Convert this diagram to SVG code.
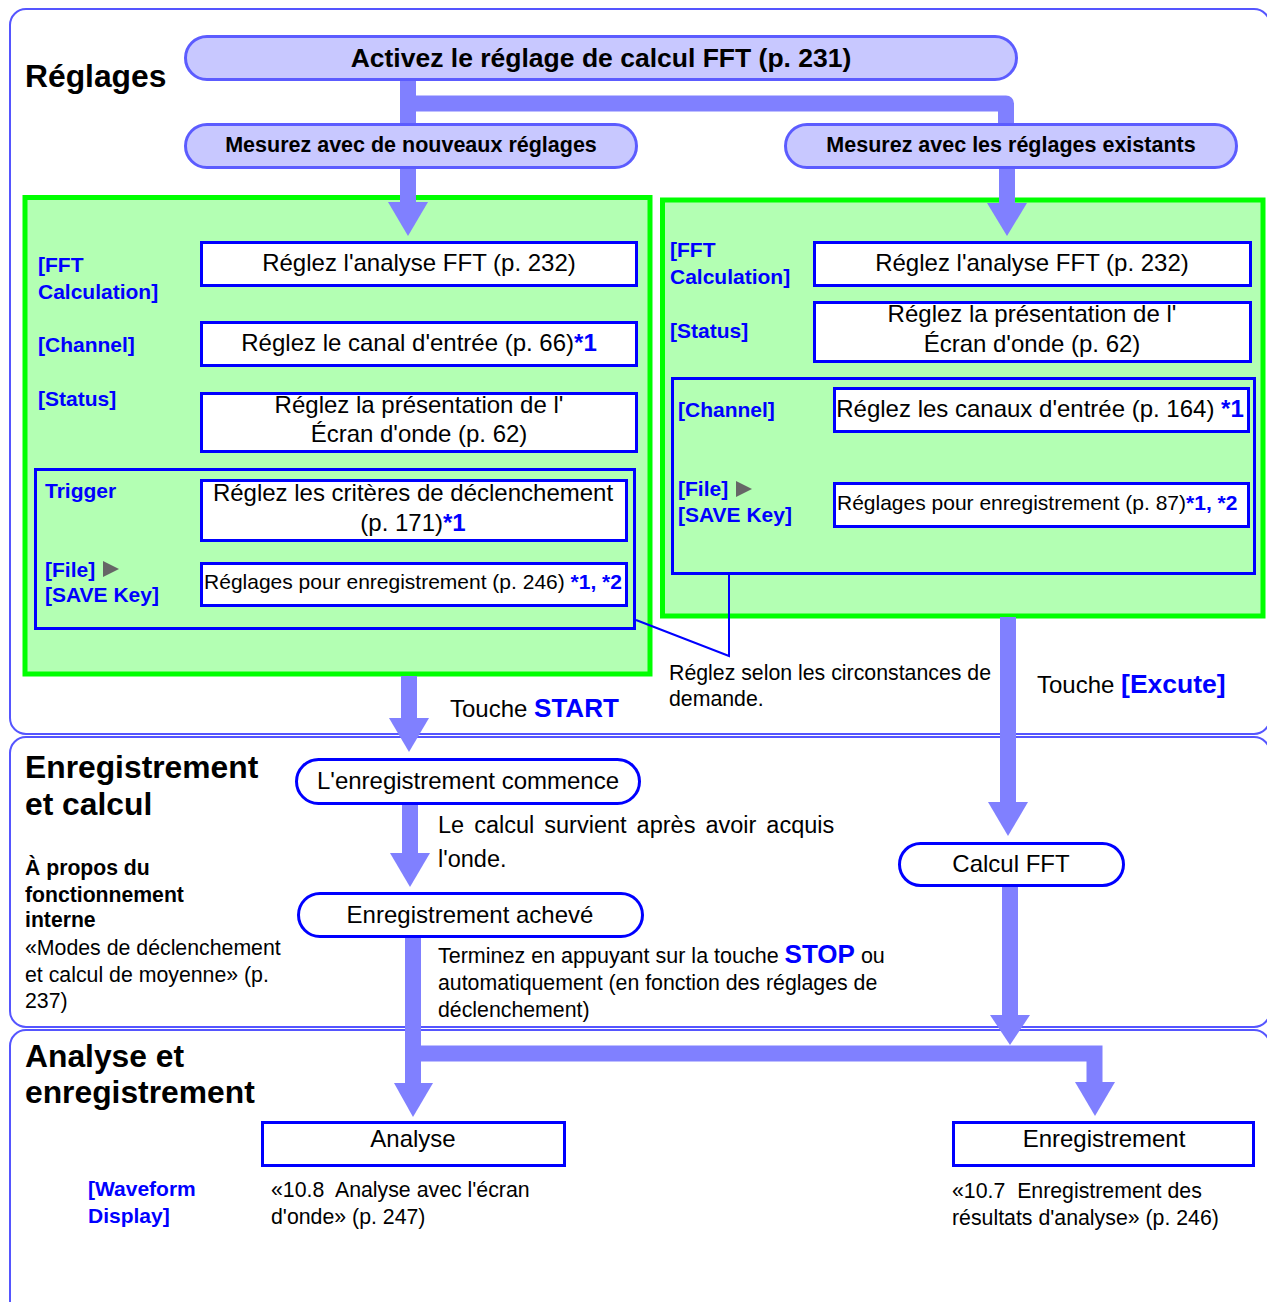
<svg xmlns="http://www.w3.org/2000/svg" width="1267" height="1302" viewBox="0 0 1267 1302">
  <defs>
    <style>
      text { font-family: "Liberation Sans", Arial, Helvetica, sans-serif; fill: #000; }
      .panel { fill: none; stroke: #5555ff; stroke-width: 2; }
      .green { fill: #b3ffb3; stroke: #00ff00; stroke-width: 5; }
      .step { fill: #c8c8ff; stroke: #5c5cff; stroke-width: 3; }
      .box { fill: #fff; stroke: #0000ff; stroke-width: 3; }
      .grp { fill: none; stroke: #0000ff; stroke-width: 3; }
      .pill { fill: #fff; stroke: #0000ff; stroke-width: 3; }
      .flow { fill: none; stroke: #8080ff; stroke-width: 16; }
      .head { fill: #8080ff; }
      .call { fill: none; stroke: #0000ff; stroke-width: 2; }
      .tri { fill: #666; }
      .h { font-size: 31.8px; font-weight: bold; }
      .st { font-size: 21.5px; font-weight: bold; }
      .t { font-size: 24px; }
      .s { font-size: 21.3px; }
      .lb { font-size: 21px; font-weight: bold; fill: #0000ff; }
      .b { font-weight: bold; fill: #0000ff; }
      .sb { font-size: 21.2px; font-weight: bold; }
      .m { text-anchor: middle; }
    </style>
  </defs>

  <!-- section frames (right side runs past the page edge) -->
  <g id="sections">
    <rect class="panel" x="10" y="9" width="1260" height="725" rx="16"/>
    <rect class="panel" x="10" y="737" width="1260" height="290" rx="16"/>
    <rect class="panel" x="10" y="1030" width="1260" height="300" rx="16"/>
    <text class="h" x="25" y="87">Réglages</text>
    <text class="h" x="25" y="778">Enregistrement</text>
    <text class="h" x="25" y="815">et calcul</text>
    <text class="h" x="25" y="1067">Analyse et</text>
    <text class="h" x="25" y="1103">enregistrement</text>
  </g>

  <!-- settings areas -->
  <g id="new-settings">
    <rect class="green" x="25" y="197.5" width="625" height="476.5"/>
    <rect class="grp" x="35.5" y="469.5" width="599" height="159"/>
    <text class="lb" x="38" y="272">[FFT</text>
    <text class="lb" x="38" y="299">Calculation]</text>
    <text class="lb" x="38" y="352">[Channel]</text>
    <text class="lb" x="38" y="406">[Status]</text>
    <text class="lb" x="45" y="498">Trigger</text>
    <text class="lb" x="45" y="577">[File]</text>
    <polygon class="tri" points="103,561 119,569 103,577"/>
    <text class="lb" x="45" y="602">[SAVE Key]</text>
  </g>
  <g id="existing-settings">
    <rect class="green" x="662.5" y="200" width="600.5" height="416"/>
    <rect class="grp" x="672.5" y="378.5" width="582" height="195"/>
    <text class="lb" x="670" y="257">[FFT</text>
    <text class="lb" x="670" y="284">Calculation]</text>
    <text class="lb" x="670" y="338">[Status]</text>
    <text class="lb" x="678" y="417">[Channel]</text>
    <text class="lb" x="678" y="496">[File]</text>
    <polygon class="tri" points="736,481 752,489 736,497"/>
    <text class="lb" x="678" y="522">[SAVE Key]</text>
  </g>

  <!-- connectors -->
  <g id="connectors">
    <path class="flow" d="M408 81 V124"/>
    <path class="flow" d="M408 103.5 H1006 V124" stroke-linejoin="round"/>
    <path class="flow" d="M408 169 V204"/>
    <polygon class="head" points="388,202 428,202 408,236"/>
    <path class="flow" d="M1007 169 V205"/>
    <polygon class="head" points="987,203 1027,203 1007,236"/>
    <path class="flow" d="M409 676 V720"/>
    <polygon class="head" points="389,718 429,718 409,752"/>
    <path class="flow" d="M410 805 V855"/>
    <polygon class="head" points="390,853 430,853 410,887"/>
    <path class="flow" d="M1008 617 V804"/>
    <polygon class="head" points="988,802 1028,802 1008,836"/>
    <path class="flow" d="M1010 887 V1017"/>
    <polygon class="head" points="990,1015 1030,1015 1010,1045"/>
    <path class="flow" d="M413 938 V1085"/>
    <polygon class="head" points="394,1083 433,1083 413,1117"/>
    <path class="flow" d="M413 1053.5 H1094.5 V1084" stroke-linejoin="miter"/>
    <polygon class="head" points="1075,1082 1115,1082 1095,1116"/>
    <path class="call" d="M636 620 L729 656 V575"/>
  </g>

  <!-- top steps -->
  <g id="enable-fft">
    <rect class="step" x="185.5" y="36.5" width="831" height="43" rx="21.5"/>
    <text class="m" x="601" y="67" style="font-size:26.5px;font-weight:bold">Activez le réglage de calcul FFT (p. 231)</text>
  </g>
  <g id="measure-new">
    <rect class="step" x="185.5" y="124.5" width="451" height="43" rx="21.5"/>
    <text class="st m" x="411" y="152">Mesurez avec de nouveaux réglages</text>
  </g>
  <g id="measure-existing">
    <rect class="step" x="785.5" y="124.5" width="451" height="43" rx="21.5"/>
    <text class="st m" x="1011" y="152">Mesurez avec les réglages existants</text>
  </g>

  <!-- left column settings -->
  <g id="l-fft">
    <rect class="box" x="201.5" y="242.5" width="435" height="43"/>
    <text class="t m" x="419" y="271">Réglez l'analyse FFT (p. 232)</text>
  </g>
  <g id="l-channel">
    <rect class="box" x="201.5" y="322.5" width="435" height="43"/>
    <text class="t m" x="419" y="351">Réglez le canal d'entrée (p. 66)<tspan class="b">*1</tspan></text>
  </g>
  <g id="l-status">
    <rect class="box" x="201.5" y="393.5" width="435" height="58"/>
    <text class="t m" x="419" y="413">Réglez la présentation de l'</text>
    <text class="t m" x="419" y="442">Écran d'onde (p. 62)</text>
  </g>
  <g id="l-trigger">
    <rect class="box" x="201.5" y="480.5" width="425" height="60"/>
    <text class="t m" x="413" y="501">Réglez les critères de déclenchement</text>
    <text class="t m" x="413" y="531">(p. 171)<tspan class="b">*1</tspan></text>
  </g>
  <g id="l-save">
    <rect class="box" x="201.5" y="563.5" width="425" height="42"/>
    <text class="m" x="413" y="589" style="font-size:21px">Réglages pour enregistrement (p. 246) <tspan class="b">*1, *2</tspan></text>
  </g>

  <!-- right column settings -->
  <g id="r-fft">
    <rect class="box" x="814.5" y="242.5" width="436" height="43"/>
    <text class="t m" x="1032" y="271">Réglez l'analyse FFT (p. 232)</text>
  </g>
  <g id="r-status">
    <rect class="box" x="814.5" y="302.5" width="436" height="59"/>
    <text class="t m" x="1032" y="322">Réglez la présentation de l'</text>
    <text class="t m" x="1032" y="352">Écran d'onde (p. 62)</text>
  </g>
  <g id="r-channel">
    <rect class="box" x="834.5" y="388.5" width="414" height="43"/>
    <text class="t m" x="1040" y="417">Réglez les canaux d'entrée (p. 164) <tspan class="b">*1</tspan></text>
  </g>
  <g id="r-save">
    <rect class="box" x="834.5" y="483.5" width="414" height="43"/>
    <text x="837" y="510" style="font-size:21px">Réglages pour enregistrement (p. 87)<tspan class="b">*1, *2</tspan></text>
  </g>

  <!-- notes under settings -->
  <g id="notes-settings">
    <text class="s" x="669" y="680">Réglez selon les circonstances de</text>
    <text class="s" x="669" y="706">demande.</text>
    <text class="t" x="450" y="717">Touche <tspan class="b" style="font-size:26px">START</tspan></text>
    <text class="t" x="1037" y="693">Touche <tspan class="b" style="font-size:26.5px">[Excute]</tspan></text>
  </g>

  <!-- recording and calculation -->
  <g id="rec-start">
    <rect class="pill" x="296.5" y="759.5" width="343" height="44" rx="22"/>
    <text class="t m" x="468" y="789">L'enregistrement commence</text>
  </g>
  <g id="rec-done">
    <rect class="pill" x="298.5" y="893.5" width="344" height="43" rx="21.5"/>
    <text class="t m" x="470" y="923">Enregistrement achevé</text>
  </g>
  <g id="fft-calc">
    <rect class="pill" x="899.5" y="843.5" width="224" height="42" rx="21"/>
    <text class="t m" x="1011" y="872">Calcul FFT</text>
  </g>
  <g id="notes-record">
    <text class="t" x="438" y="833" style="font-size:23.5px;word-spacing:3.5px">Le calcul survient après avoir acquis</text>
    <text class="t" x="438" y="867" style="font-size:23.5px">l'onde.</text>
    <text x="438" y="963" style="font-size:21.5px">Terminez en appuyant sur la touche <tspan class="b" style="font-size:26px">STOP</tspan> ou</text>
    <text class="s" x="438" y="990">automatiquement (en fonction des réglages de</text>
    <text class="s" x="438" y="1017">déclenchement)</text>
    <text class="sb" x="25" y="875">À propos du</text>
    <text class="sb" x="25" y="902">fonctionnement</text>
    <text class="sb" x="25" y="927">interne</text>
    <text class="s" x="25" y="955">«Modes de déclenchement</text>
    <text class="s" x="25" y="982">et calcul de moyenne» (p.</text>
    <text class="s" x="25" y="1008">237)</text>
  </g>

  <!-- analysis and saving -->
  <g id="analysis">
    <rect class="box" x="262.5" y="1122.5" width="302" height="43"/>
    <text class="t m" x="413" y="1147">Analyse</text>
  </g>
  <g id="saving">
    <rect class="box" x="953.5" y="1122.5" width="300" height="43"/>
    <text class="t m" x="1104" y="1147">Enregistrement</text>
  </g>
  <g id="notes-analysis">
    <text class="lb" x="88" y="1196">[Waveform</text>
    <text class="lb" x="88" y="1223">Display]</text>
    <text class="s" x="271" y="1197">«10.8&#160; Analyse avec l'écran</text>
    <text class="s" x="271" y="1224">d'onde» (p. 247)</text>
    <text class="s" x="952" y="1198">«10.7&#160; Enregistrement des</text>
    <text class="s" x="952" y="1225">résultats d'analyse» (p. 246)</text>
  </g>
</svg>
